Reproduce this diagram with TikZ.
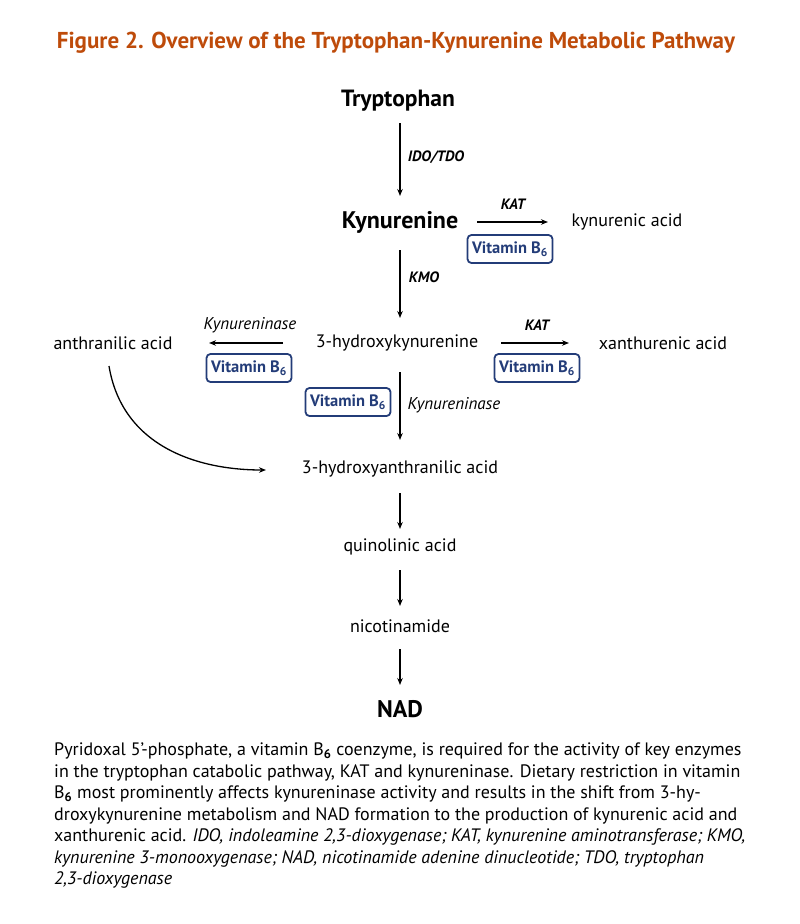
\documentclass[tikz,border=0pt]{standalone}
\usepackage{fontspec}
\setmainfont{PT Sans}
\usetikzlibrary{arrows.meta}
\definecolor{ttl}{RGB}{190,75,10}
\definecolor{vb}{RGB}{35,60,120}
\begin{document}
\begin{tikzpicture}[x=1pt,y=-1pt,
  mol/.style={inner sep=0pt,font=\fontsize{18}{20}\selectfont},
  bigmol/.style={inner sep=0pt,font=\fontsize{24}{26}\selectfont\bfseries},
  enz/.style={inner sep=0pt,font=\fontsize{15}{17}\selectfont\bfseries\itshape},
  enzn/.style={inner sep=0pt,font=\fontsize{17}{19}\selectfont\itshape},
  vit/.style={draw=vb,line width=1.8pt,rounded corners=4pt,text=vb,minimum width=85pt,minimum height=28pt,inner sep=0pt,font=\fontsize{16.5}{18}\selectfont\bfseries},
  arr/.style={-{Stealth[length=7pt,width=5.5pt]},line width=1.1pt}]
\useasboundingbox (0,0) rectangle (800,924);
\node[inner sep=0pt,font=\fontsize{23}{26}\selectfont\bfseries,text=ttl] (title) at (396,43) {Figure 2. Overview of the Tryptophan-Kynurenine Metabolic Pathway};
\node[bigmol,font=\fontsize{23.5}{26}\selectfont\bfseries] (trp) at (398,101) {Tryptophan};
\node[bigmol] (kyn) at (400,222) {Kynurenine};
\node[mol] (kyna) at (627,222) {kynurenic acid};
\node[mol] (hk) at (397,343) {3-hydroxykynurenine};
\node[mol] (aa) at (113,343) {anthranilic acid};
\node[mol] (xa) at (663,343) {xanthurenic acid};
\node[mol] (haa) at (400,469) {3-hydroxyanthranilic acid};
\node[mol] (qa) at (400,547) {quinolinic acid};
\node[mol] (nic) at (400,626) {nicotinamide};
\node[bigmol] (nad) at (400,709) {NAD};
% arrows
\coordinate (a1s) at (400,123); \coordinate (a1e) at (400,196);
\draw[arr] (a1s) -- (a1e);
\node[enz] (ido) at (436,157) {IDO/TDO};
\coordinate (a2s) at (477,222); \coordinate (a2e) at (548,222);
\draw[arr] (a2s) -- (a2e);
\node[enz] (kat1) at (513,204) {KAT};
\node[vit] (v1) at (510,249) {Vitamin B\textsubscript{6}};
\coordinate (a3s) at (400,250); \coordinate (a3e) at (400,318);
\draw[arr] (a3s) -- (a3e);
\node[enz] (kmo) at (424,277) {KMO};
\coordinate (a4s) at (283,343); \coordinate (a4e) at (209,343);
\draw[arr] (a4s) -- (a4e);
\node[enzn] (kyn1) at (250,325) {Kynureninase};
\node[vit] (v2) at (249,368) {Vitamin B\textsubscript{6}};
\coordinate (a5s) at (501,343); \coordinate (a5e) at (569,343);
\draw[arr] (a5s) -- (a5e);
\node[enz] (kat2) at (537,325) {KAT};
\node[vit] (v3) at (537,368) {Vitamin B\textsubscript{6}};
\coordinate (a6s) at (400,372); \coordinate (a6e) at (400,440);
\draw[arr] (a6s) -- (a6e);
\node[vit] (v4) at (348,402) {Vitamin B\textsubscript{6}};
\node[enzn] (kyn2) at (454,405) {Kynureninase};
\coordinate (cs) at (109,366); \coordinate (ce) at (266,470);
\draw[arr,line width=1.3pt] (cs) .. controls (122,445) and (195,470) .. (ce);
\coordinate (a7s) at (400,493); \coordinate (a7e) at (400,529);
\draw[arr] (a7s) -- (a7e);
\coordinate (a8s) at (400,570); \coordinate (a8e) at (400,606);
\draw[arr] (a8s) -- (a8e);
\coordinate (a9s) at (400,649); \coordinate (a9e) at (400,685);
\draw[arr] (a9s) -- (a9e);
% caption
\node[anchor=north west,inner sep=0pt,align=left,font=\fontsize{18}{21.5}\selectfont] (cap) at (54,743) {Pyridoxal 5’-phosphate, a vitamin B\textsubscript{\textbf{6}} coenzyme, is required for the activity of key enzymes\\
in the tryptophan catabolic pathway, KAT and kynureninase. Dietary restriction in vitamin\\
B\textsubscript{\textbf{6}} most prominently affects kynureninase activity and results in the shift from 3-hy-\\
droxykynurenine metabolism and NAD formation to the production of kynurenic acid and\\
xanthurenic acid. \textit{IDO, indoleamine 2,3-dioxygenase; KAT, kynurenine aminotransferase; KMO,}\\
\textit{kynurenine 3-monooxygenase; NAD, nicotinamide adenine dinucleotide; TDO, tryptophan}\\
\textit{2,3-dioxygenase}};
\end{tikzpicture}
\end{document}
